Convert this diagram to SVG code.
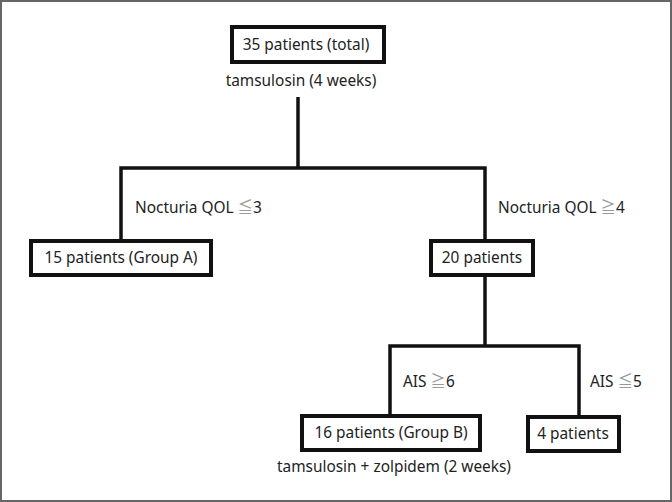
<svg xmlns="http://www.w3.org/2000/svg" width="672" height="502" viewBox="0 0 672 502">
<style>
.box{fill:#fff;stroke:#111;stroke-width:4}
.ln{fill:none;stroke:#111;stroke-width:3.5}
text{font-family:"Noto Sans","Open Sans","DejaVu Sans",sans-serif;font-size:15.4px;fill:#222}
.c{text-anchor:middle}
.s{font-family:"Noto Sans CJK KR","Noto Sans CJK JP",sans-serif;fill:#999}
</style>
<rect x="1" y="1" width="670" height="500" fill="#fff" stroke="#666" stroke-width="2"/>
<g id="connectors">
<polyline class="ln" points="298,97 298,168"/>
<polyline class="ln" points="121,240 121,168 485,168 485,240"/>
<polyline class="ln" points="485,276 485,346"/>
<polyline class="ln" points="390,415 390,346 579,346 579,416"/>
</g>
<g id="n-total">
<rect class="box" x="232" y="27" width="152" height="35"/>
<text class="c" x="306" y="50">35 patients (total)</text>
</g>
<text class="c" x="301" y="86">tamsulosin (4 weeks)</text>
<text x="135" y="213">Nocturia QOL <tspan class="s">≦</tspan>3</text>
<text x="498" y="213">Nocturia QOL <tspan class="s">≧</tspan>4</text>
<g id="n-groupA">
<rect class="box" x="31" y="241" width="180" height="34"/>
<text class="c" x="121" y="263">15 patients (Group A)</text>
</g>
<g id="n-20">
<rect class="box" x="431" y="241" width="102" height="34"/>
<text class="c" x="482" y="263">20 patients</text>
</g>
<text x="403" y="387">AIS <tspan class="s">≧</tspan>6</text>
<text x="590" y="387">AIS <tspan class="s">≦</tspan>5</text>
<g id="n-groupB">
<rect class="box" x="302" y="416" width="178" height="34"/>
<text class="c" x="391" y="438">16 patients (Group B)</text>
</g>
<g id="n-4">
<rect class="box" x="528" y="417" width="91" height="34"/>
<text class="c" x="573" y="439">4 patients</text>
</g>
<text class="c" x="394" y="472">tamsulosin + zolpidem (2 weeks)</text>
</svg>
